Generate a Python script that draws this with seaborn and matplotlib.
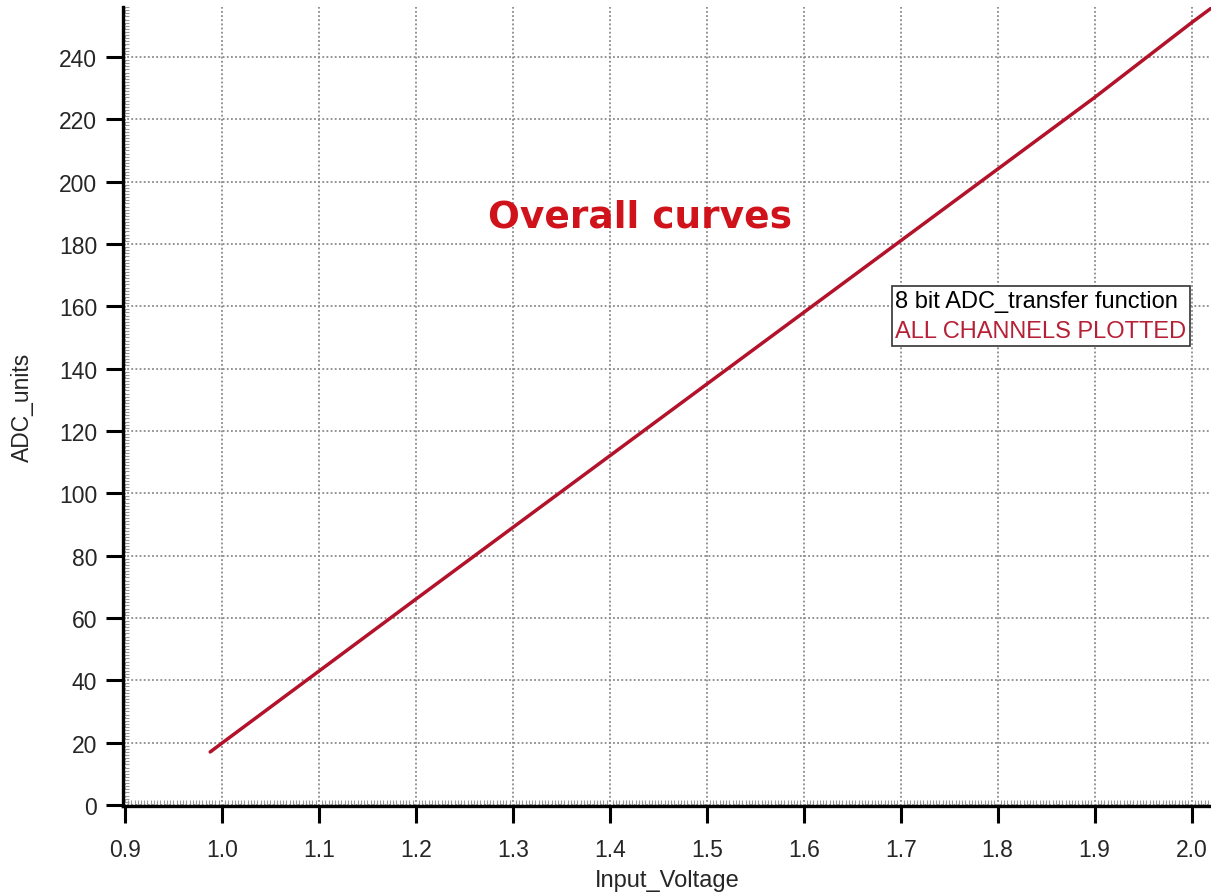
import matplotlib
matplotlib.use("Agg")
import matplotlib.pyplot as plt
import seaborn as sns
import pandas as pd
from matplotlib.ticker import MultipleLocator
from matplotlib.offsetbox import TextArea, VPacker, AnchoredOffsetbox

# Data
input_voltage = [0.988, 1.0, 1.1, 1.2, 1.3, 1.4, 1.5, 1.6, 1.7, 1.8, 1.9, 2.0, 2.02]
adc_units = [17.0, 19.8, 42.9, 66.0, 89.0, 112.0, 135.0, 158.0, 181.0, 204.0, 227.0, 251.0, 255.6]
x_ticks = [0.9, 1.0, 1.1, 1.2, 1.3, 1.4, 1.5, 1.6, 1.7, 1.8, 1.9, 2.0]
y_ticks = [0, 20, 40, 60, 80, 100, 120, 140, 160, 180, 200, 220, 240]

sns.set_style("white")
plt.rcParams['font.family'] = ['Liberation Sans', 'DejaVu Sans']

df = pd.DataFrame({"Input_Voltage": input_voltage, "ADC_units": adc_units})

fig = plt.figure(figsize=(12.11, 8.95), dpi=100)
ax = fig.add_axes([0.1015, 0.0978, 0.8985, 0.8932])

sns.lineplot(data=df, x="Input_Voltage", y="ADC_units", ax=ax,
             color="#b3122b", linewidth=2.5, zorder=3)

ax.set_xlim(0.898, 2.02)
ax.set_ylim(-0.5, 256)
ax.set_xticks(x_ticks)
ax.set_xticklabels([f"{v:.1f}" for v in x_ticks])
ax.set_yticks(y_ticks)
ax.xaxis.set_minor_locator(MultipleLocator(0.1 / 30))
ax.yaxis.set_minor_locator(MultipleLocator(1))

ax.grid(True, which="major", linestyle=(0, (1, 1.3)), color="#8a8a8a", linewidth=1.3)

for s in ["top", "right"]:
    ax.spines[s].set_visible(False)
for s in ["left", "bottom"]:
    ax.spines[s].set_color("black")
    ax.spines[s].set_linewidth(2.4)

ax.tick_params(which="major", direction="out", length=12.5, width=2.2, color="black",
               labelsize=16.5, left=True, bottom=True)
ax.tick_params(axis="x", which="major", pad=10)
ax.tick_params(axis="y", which="major", pad=6)
ax.tick_params(which="minor", direction="in", length=4, width=0.8, color="#999999",
               left=True, bottom=True)

ax.set_xlabel("Input_Voltage", fontsize=17, labelpad=6)
ax.set_ylabel("ADC_units", fontsize=16.5, labelpad=18)

ax.text(1.431, 188.8, "Overall curves", color="#d0121b", fontsize=27,
        fontweight="bold", family=["DejaVu Sans"], ha="center", va="center")

t1 = TextArea("8 bit ADC_transfer function",
              textprops=dict(color="black", fontsize=17))
t2 = TextArea("ALL CHANNELS PLOTTED",
              textprops=dict(color="#b52035", fontsize=17))
pack = VPacker(children=[t1, t2], align="left", pad=0, sep=6)
box = AnchoredOffsetbox(loc="upper left", child=pack, pad=0.25, frameon=True,
                        bbox_to_anchor=(1.6907, 166.4), bbox_transform=ax.transData,
                        borderpad=0)
box.patch.set_edgecolor("#333333")
box.patch.set_linewidth(1.2)
box.zorder = 5
ax.add_artist(box)

fig.savefig("out.png", dpi=100)
